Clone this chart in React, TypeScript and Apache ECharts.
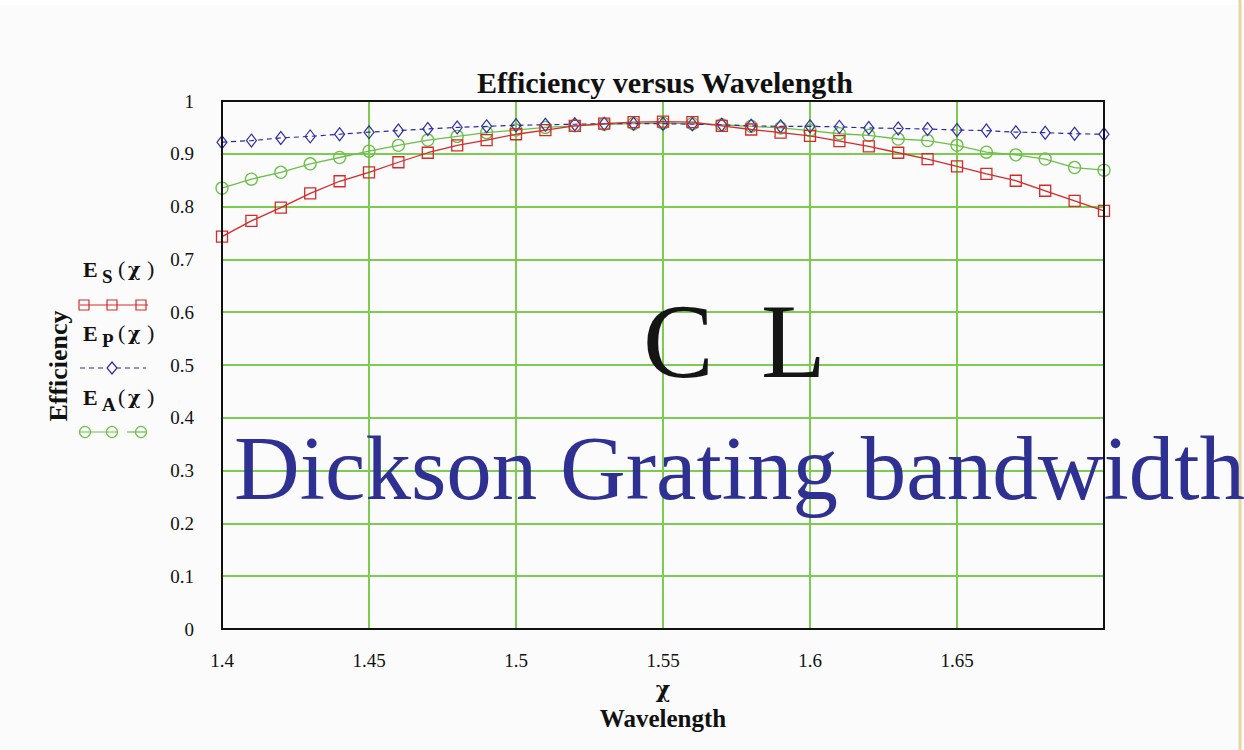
import React, { useEffect, useRef } from "react";
import * as echarts from "echarts";

const wavelength = [1.40, 1.41, 1.42, 1.43, 1.44, 1.45, 1.46, 1.47, 1.48, 1.49, 1.50, 1.51, 1.52, 1.53, 1.54, 1.55, 1.56, 1.57, 1.58, 1.59, 1.60, 1.61, 1.62, 1.63, 1.64, 1.65, 1.66, 1.67, 1.68, 1.69, 1.70];
const effS = [0.743, 0.773, 0.798, 0.825, 0.848, 0.865, 0.884, 0.902, 0.916, 0.926, 0.937, 0.945, 0.953, 0.957, 0.960, 0.961, 0.960, 0.953, 0.946, 0.940, 0.934, 0.924, 0.914, 0.902, 0.890, 0.876, 0.862, 0.849, 0.830, 0.811, 0.792];
const effP = [0.922, 0.925, 0.930, 0.933, 0.937, 0.941, 0.944, 0.947, 0.950, 0.952, 0.954, 0.955, 0.956, 0.957, 0.957, 0.957, 0.956, 0.955, 0.953, 0.952, 0.952, 0.951, 0.949, 0.948, 0.947, 0.945, 0.944, 0.941, 0.940, 0.938, 0.937];
const effA = [0.835, 0.852, 0.865, 0.881, 0.893, 0.905, 0.916, 0.926, 0.933, 0.940, 0.945, 0.950, 0.953, 0.956, 0.957, 0.958, 0.957, 0.955, 0.952, 0.949, 0.944, 0.938, 0.935, 0.928, 0.925, 0.916, 0.903, 0.898, 0.890, 0.874, 0.869];

const titleText = "Efficiency versus Wavelength";
const xName = "Wavelength";
const yName = "Efficiency";
const watermark1 = "Dickson Grating bandwidth";

const RED = "#d62a2a";
const BLUE = "#2b2ba6";
const GREEN = "#6cc048";
const GRID_GREEN = "#7ccc52";
const SERIF = "'Liberation Serif', 'Times New Roman', serif";
const CHI_FONT = "'DejaVu Serif', serif";

const G = { left: 222, top: 101, right: 1104, bottom: 629 };

export default function App() {
  const ref = useRef<HTMLDivElement>(null);
  useEffect(() => {
    document.body.style.margin = "0";
    const chart = echarts.init(ref.current!, undefined, { renderer: "svg" });
    const pair = (ys: number[]) => wavelength.map((x, i) => [x, ys[i]]);
    const legendItems: any[] = [];
    const legendRow = (sub: string, y: number) => [
      { type: "text", left: 83, top: y, z: 20, style: { text: "E", font: `bold 22px ${SERIF}`, fill: "#111" } },
      { type: "text", left: 102, top: y + 9, z: 20, style: { text: sub, font: `bold 19px ${SERIF}`, fill: "#111" } },
      { type: "text", left: 118, top: y - 1, z: 20, style: { text: "(", font: `22px ${SERIF}`, fill: "#111" } },
      { type: "text", left: 128, top: y + 1, z: 20, style: { text: "χ", font: `bold 19px ${CHI_FONT}`, fill: "#111" } },
      { type: "text", left: 147, top: y - 1, z: 20, style: { text: ")", font: `22px ${SERIF}`, fill: "#111" } },
    ];
    legendItems.push(...legendRow("S", 258), ...legendRow("P", 322), ...legendRow("A", 386));
    // red legend sample
    legendItems.push({ type: "line", z: 20, shape: { x1: 80, y1: 305, x2: 148, y2: 305 }, style: { stroke: RED, lineWidth: 1.2 } });
    [84, 112, 141].forEach((cx) =>
      legendItems.push({ type: "rect", z: 20, shape: { x: cx - 5, y: 300, width: 10, height: 10 }, style: { stroke: RED, fill: "none", lineWidth: 1.2 } })
    );
    // blue legend sample
    legendItems.push({ type: "line", z: 20, shape: { x1: 80, y1: 368, x2: 146, y2: 368 }, style: { stroke: BLUE, lineWidth: 1.2, lineDash: [5, 4] } });
    legendItems.push({ type: "polygon", z: 20, shape: { points: [[112, 362], [117, 368], [112, 374], [107, 368]] }, style: { stroke: BLUE, fill: "#fbfbfb", lineWidth: 1.2 } });
    // green legend sample
    legendItems.push({ type: "line", z: 20, shape: { x1: 80, y1: 432, x2: 118, y2: 432 }, style: { stroke: GREEN, lineWidth: 1.2 } });
    legendItems.push({ type: "line", z: 20, shape: { x1: 127, y1: 432, x2: 147, y2: 432 }, style: { stroke: GREEN, lineWidth: 1.2 } });
    [85, 112, 141].forEach((cx) =>
      legendItems.push({ type: "circle", z: 20, shape: { cx, cy: 432, r: 5.5 }, style: { stroke: GREEN, fill: "none", lineWidth: 1.2 } })
    );

    const option: any = {
      animation: false,
      backgroundColor: "#fbfbfb",
      grid: { left: G.left, top: G.top, width: G.right - G.left, height: G.bottom - G.top, containLabel: false },
      xAxis: {
        type: "value",
        min: 1.4,
        max: 1.7,
        interval: 0.05,
        axisLine: { show: false },
        axisTick: { show: false },
        axisLabel: {
          showMaxLabel: false,
          margin: 22,
          color: "#111",
          fontFamily: SERIF,
          fontSize: 19,
          formatter: (v: number) => String(Math.round(v * 100) / 100),
        },
        splitLine: { show: true, lineStyle: { color: GRID_GREEN, width: 2 } },
      },
      yAxis: {
        type: "value",
        min: 0,
        max: 1,
        interval: 0.1,
        axisLine: { show: false },
        axisTick: { show: false },
        axisLabel: {
          margin: 28,
          color: "#111",
          fontFamily: SERIF,
          fontSize: 19,
          formatter: (v: number) => String(Math.round(v * 10) / 10),
        },
        splitLine: { show: true, lineStyle: { color: GRID_GREEN, width: 2 } },
      },
      series: [
        {
          name: "EA",
          type: "line",
          data: pair(effA),
          symbol: "circle",
          symbolSize: 12,
          lineStyle: { color: GREEN, width: 1.3 },
          itemStyle: { color: "transparent", borderColor: GREEN, borderWidth: 1.3 },
          z: 3,
        },
        {
          name: "EP",
          type: "line",
          data: pair(effP),
          symbol: "diamond",
          symbolSize: [10, 13],
          lineStyle: { color: BLUE, width: 1.2, type: [5, 4] },
          itemStyle: { color: "transparent", borderColor: BLUE, borderWidth: 1.2 },
          z: 4,
        },
        {
          name: "ES",
          type: "line",
          data: pair(effS),
          symbol: "rect",
          symbolSize: 11,
          lineStyle: { color: RED, width: 1.3 },
          itemStyle: { color: "transparent", borderColor: RED, borderWidth: 1.3 },
          z: 5,
        },
      ],
      graphic: [
        { type: "rect", z: 0, shape: { x: 0, y: 0, width: 1244, height: 5 }, style: { fill: "#ffffff" } },
        { type: "line", z: 1, shape: { x1: 1240, y1: 0, x2: 1240, y2: 750 }, style: { stroke: "#e4d7a2", lineWidth: 3 } },
        {
          type: "rect",
          z: 30,
          shape: { x: G.left, y: G.top, width: G.right - G.left, height: G.bottom - G.top },
          style: { stroke: "#111", fill: "none", lineWidth: 2 },
        },
        {
          type: "text",
          x: 665,
          y: 82,
          z: 20,
          style: { text: titleText, font: `bold 30px ${SERIF}`, fill: "#111", textAlign: "center", textVerticalAlign: "middle" },
        },
        {
          type: "text",
          x: 663,
          y: 689,
          z: 20,
          style: { text: "χ", font: `bold 22px ${CHI_FONT}`, fill: "#111", textAlign: "center", textVerticalAlign: "middle" },
        },
        {
          type: "text",
          x: 663,
          y: 718,
          z: 20,
          style: { text: xName, font: `bold 25px ${SERIF}`, fill: "#111", textAlign: "center", textVerticalAlign: "middle" },
        },
        {
          type: "text",
          x: 58,
          y: 366,
          rotation: Math.PI / 2,
          z: 20,
          style: { text: yName, font: `bold 26px ${SERIF}`, fill: "#111", textAlign: "center", textVerticalAlign: "middle" },
        },
        ...legendItems,
        {
          type: "text",
          left: 643,
          top: 288,
          z: 25,
          style: { text: "C", font: `106px ${SERIF}`, fill: "#151515" },
        },
        {
          type: "text",
          left: 761,
          top: 288,
          z: 25,
          style: { text: "L", font: `106px ${SERIF}`, fill: "#151515" },
        },
        {
          type: "text",
          left: 234,
          top: 423,
          z: 25,
          style: { text: watermark1, font: `91px ${SERIF}`, fill: "#2e3192" },
        },
      ],
    };
    chart.setOption(option);
    return () => chart.dispose();
  }, []);
  return <div ref={ref} style={{ position: "absolute", left: 0, top: 0, width: 1244, height: 750 }} />;
}
